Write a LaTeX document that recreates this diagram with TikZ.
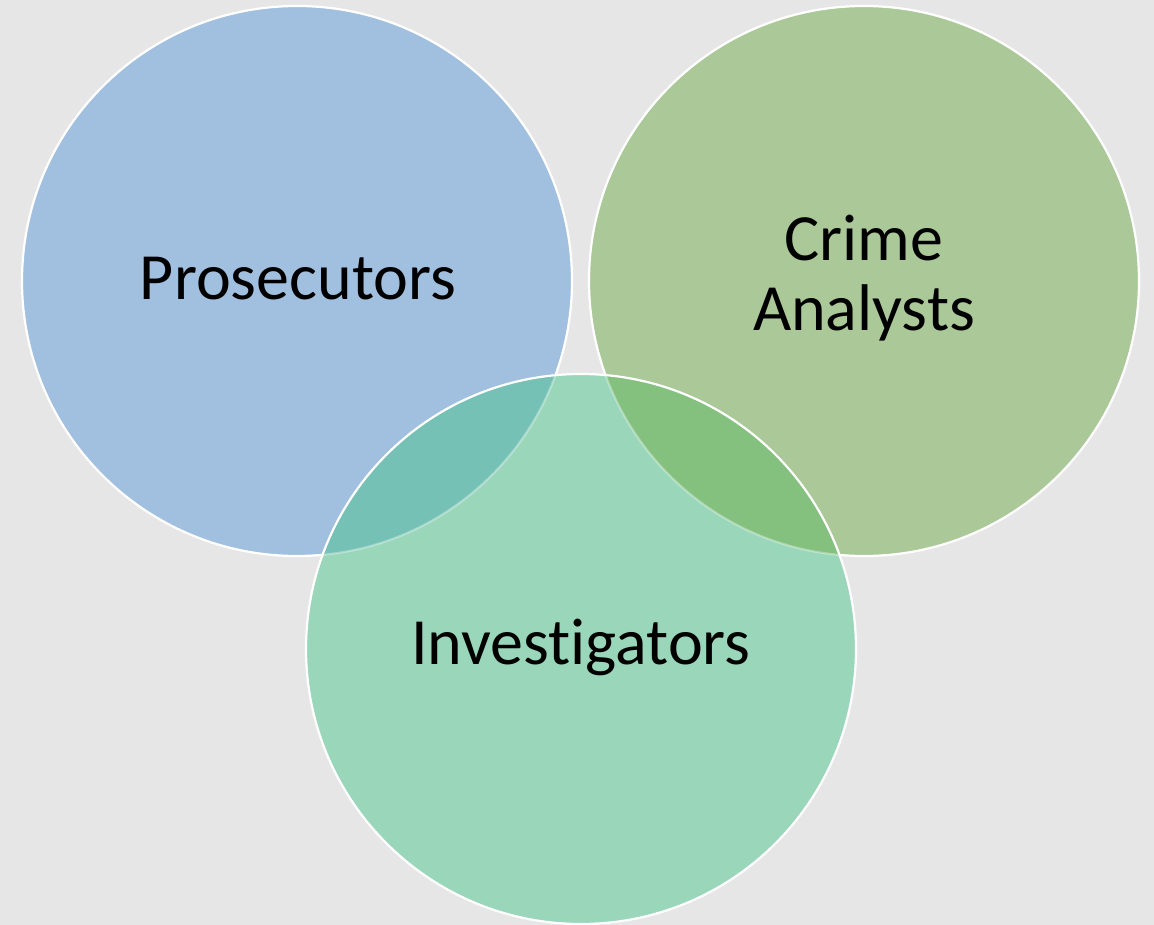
\documentclass[tikz,border=0pt]{standalone}
\usepackage{fontspec}
\setmainfont{Carlito}[Ligatures=NoCommon]
\definecolor{bggray}{HTML}{E6E6E6}
\definecolor{cblue}{HTML}{A1BFDE}
\definecolor{cgreen}{HTML}{ABC998}
\definecolor{cteal}{HTML}{99D6BA}
\definecolor{cbt}{HTML}{76C1B5}
\definecolor{cgt}{HTML}{84C07E}
\tikzset{
  rim/.style={draw=white, line width=2.2pt},
  fainrim/.style={draw=white, draw opacity=0.35, line width=2.2pt},
  lbl/.style={font=\fontsize{66}{70}\selectfont, align=center, text=black, inner sep=0pt}
}
\begin{document}
\begin{tikzpicture}[x=1pt,y=-1pt]
\fill[bggray] (0,0) rectangle (1154,925);
\useasboundingbox (0,0) rectangle (1154,925);
\coordinate (pc) at (297,281);
\coordinate (gc) at (864,281);
\coordinate (tc) at (581,649);
\def\R{275}
% base circles
\fill[cblue] (pc) circle (\R);
\draw[rim] (pc) circle (\R);
\fill[cgreen] (gc) circle (\R);
\draw[rim] (gc) circle (\R);
% top circle
\fill[cteal] (tc) circle (\R);
\begin{scope}
  \clip (tc) circle (\R);
  \fill[cbt] (pc) circle (\R);
  \fill[cgt] (gc) circle (\R);
  \draw[fainrim] (pc) circle (\R);
  \draw[fainrim] (gc) circle (\R);
\end{scope}
\draw[rim] (tc) circle (\R);
% labels
\node[lbl] (pros) at (298,279) {Prosecutors};
\node[lbl] (crime) at (864,278) {Crime\\Analysts};
\node[lbl] (inv) at (581,647) {Investigators};
\end{tikzpicture}
\end{document}
